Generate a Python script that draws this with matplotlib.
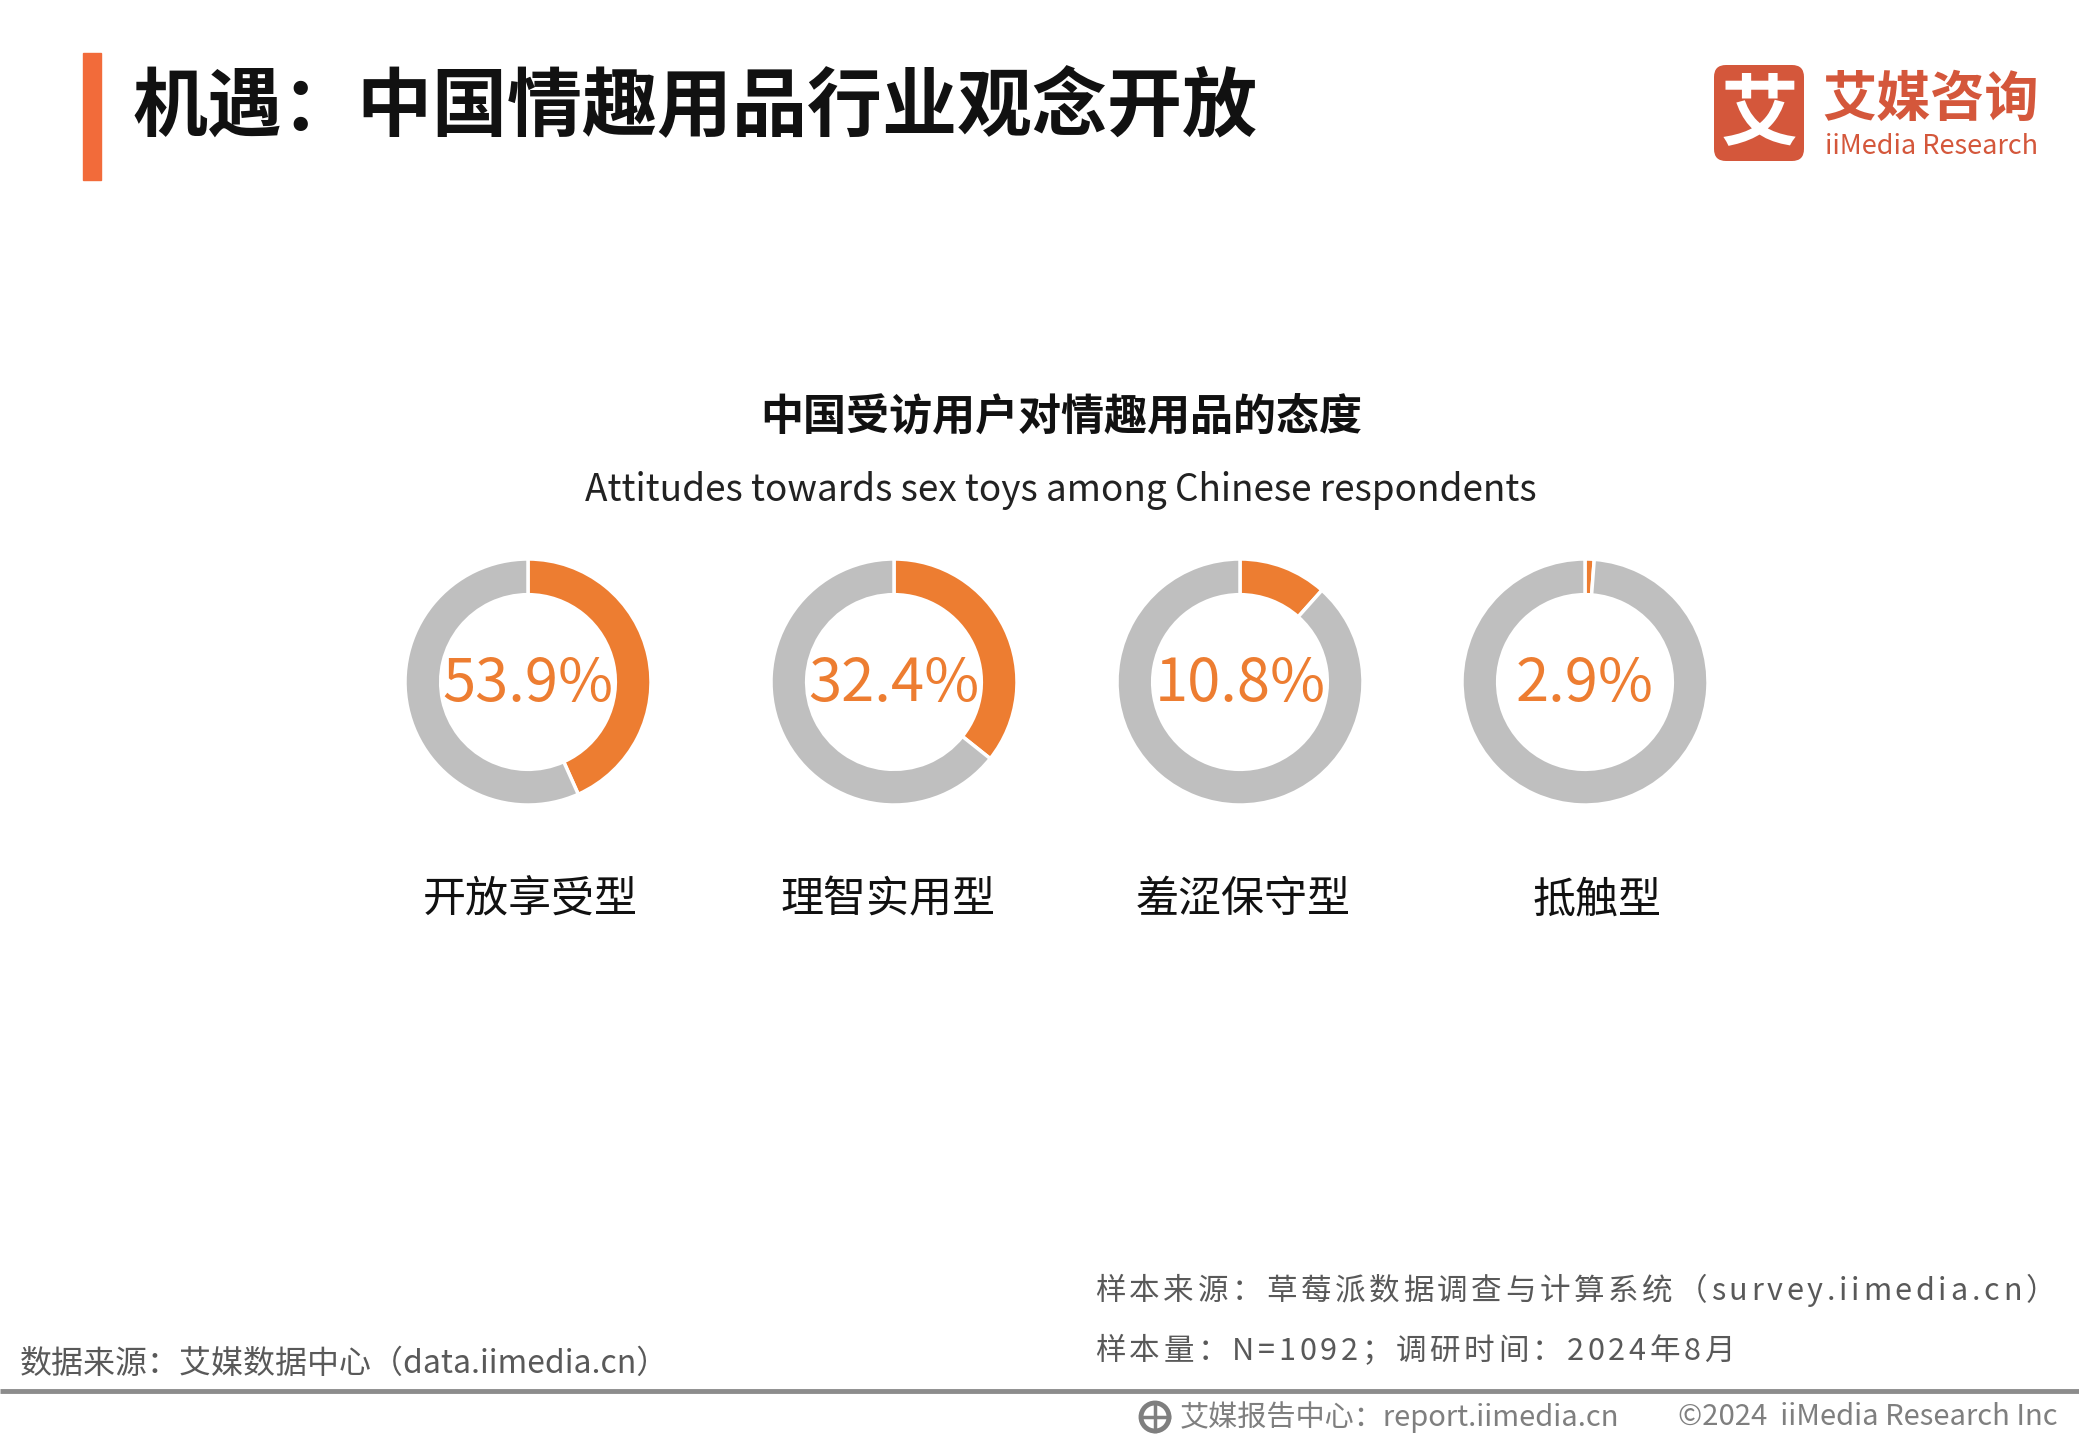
import matplotlib
matplotlib.use("Agg")
import matplotlib.pyplot as plt
from matplotlib.patches import FancyBboxPatch, Rectangle, Circle

plt.rcParams['font.family'] = ['Noto Sans CJK SC', 'DejaVu Sans']

# data
categories = ["开放享受型", "理智实用型", "羞涩保守型", "抵触型"]
labels = ["53.9%", "32.4%", "10.8%", "2.9%"]
# arc sizes as they are drawn in the picture (not to scale with the labels)
arc_shares = [43.3, 35.7, 11.6, 1.2]

title = "机遇：中国情趣用品行业观念开放"
chart_title = "中国受访用户对情趣用品的态度"
chart_subtitle = "Attitudes towards sex toys among Chinese respondents"
note_sample = "样本来源：草莓派数据调查与计算系统（survey.iimedia.cn）"
note_size = "样本量：N=1092；调研时间：2024年8月"
note_data = "数据来源：艾媒数据中心（data.iimedia.cn）"
footer_left = "艾媒报告中心：report.iimedia.cn"
footer_right = "©2024  iiMedia Research Inc"

ORANGE = "#ED7D31"
GRAY = "#BFBFBF"
LOGO = "#D4573B"
W, H = 2079, 1440

fig = plt.figure(figsize=(W / 100, H / 100), dpi=100)
bg = fig.add_axes([0, 0, 1, 1])
bg.set_xlim(0, W)
bg.set_ylim(H, 0)
bg.axis("off")
renderer = fig.canvas.get_renderer()


def text_width(s, **kw):
    t = bg.text(0, 0, s, **kw)
    w = t.get_window_extent(renderer).width
    t.remove()
    return w


def spaced_text(x, y, s, track, **kw):
    # draw s one character at a time with extra letter spacing
    for i, ch in enumerate(s):
        off = text_width(s[:i + 1], **kw) - text_width(ch, **kw)
        bg.text(x + off + i * track, y, ch, ha="left", va="baseline", **kw)


# header
bg.add_patch(Rectangle((83, 53), 18, 127, color="#F26B3A"))
bg.text(133, 108, title, fontsize=54, fontweight="bold", va="center", ha="left", color="#111111")

# logo
bg.add_patch(FancyBboxPatch((1714, 65), 90, 96, boxstyle="round,pad=0,rounding_size=12",
                            color=LOGO, lw=0))
bg.text(1759, 115, "艾", fontsize=56, fontweight="bold", color="white", ha="center", va="center")
bg.text(1822, 100, "艾媒咨询", fontsize=39, fontweight="bold", color=LOGO, ha="left", va="center")
bg.text(1825, 146, "iiMedia Research", fontsize=19.5, fontweight="medium", color=LOGO,
        ha="left", va="center")

# chart titles
bg.text(1061, 418, chart_title, fontsize=31, fontweight="bold", ha="center", va="center", color="#111111")
bg.text(1061, 491, chart_subtitle, fontsize=26.6, ha="center", va="center", color="#222222")

# donuts
centers_x = [528, 894, 1240, 1585]
label_x = [530, 888, 1243, 1597]
cy = 682
r = 123
for cx, lx, v, lab, cat in zip(centers_x, label_x, arc_shares, labels, categories):
    ax = fig.add_axes([(cx - r) / W, 1 - (cy + r) / H, 2 * r / W, 2 * r / H])
    ax.pie([v, 100 - v], colors=[ORANGE, GRAY], startangle=90, counterclock=False,
           radius=1, wedgeprops=dict(width=0.29, edgecolor="white", linewidth=2.5))
    ax.set_xlim(-1.0, 1.0)
    ax.set_ylim(-1.0, 1.0)
    ax.text(0, -0.02, lab, fontsize=43, color=ORANGE, ha="center", va="center")
    bg.text(lx, 900, cat, fontsize=31, ha="center", va="center", color="#111111")

# notes
note_kw = dict(fontsize=22, color="#595959")
spaced_text(1095, 1300, note_sample, 3.7, **note_kw)
spaced_text(1095, 1360, note_size, 3.7, **note_kw)
bg.text(20, 1364, note_data, ha="left", va="center", fontsize=23, color="#595959")

# footer
bg.plot([0, W], [1391, 1391], color="#8C8C8C", lw=3.5, solid_capstyle="butt")
bg.add_patch(Circle((1155, 1417), 14, facecolor="none", edgecolor="#7F7F7F", lw=3.5))
bg.plot([1141, 1169], [1417, 1417], color="#7F7F7F", lw=2.5)
bg.plot([1155, 1155], [1403, 1431], color="#7F7F7F", lw=2.5)
bg.text(1180, 1417, footer_left, fontsize=21, color="#7F7F7F", ha="left", va="center")
bg.text(2058, 1417, footer_right, fontsize=21, color="#7F7F7F", ha="right", va="center")

fig.savefig("out.png", dpi=100, facecolor="white")
